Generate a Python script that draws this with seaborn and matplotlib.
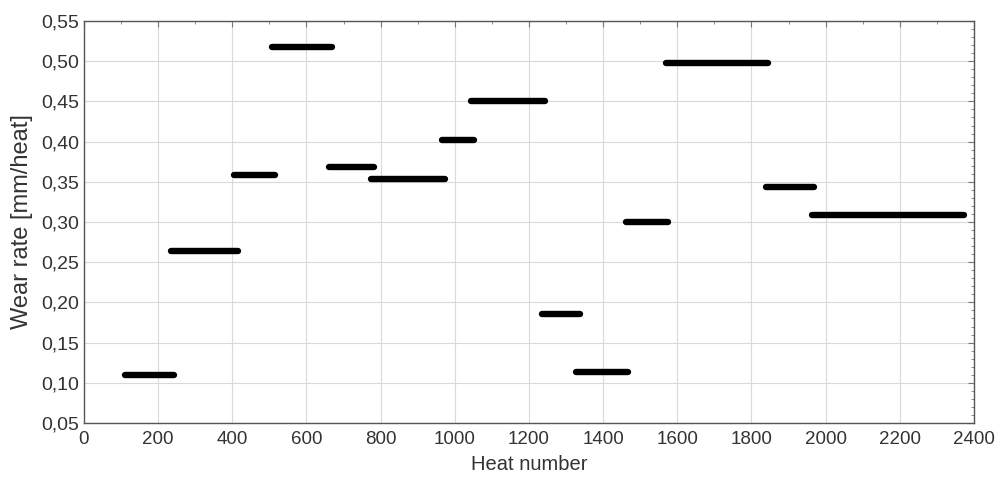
import matplotlib
matplotlib.use("Agg")
import matplotlib.pyplot as plt
import matplotlib.ticker as mticker
import numpy as np
import pandas as pd
import seaborn as sns

# ── Data: one horizontal step per campaign ───────────────────────────────────
heat_start = [110, 235, 405, 507, 662, 775, 965, 1045, 1235, 1328, 1462, 1570, 1838, 1962]
heat_end   = [243, 415, 515, 668, 782, 973, 1052, 1243, 1337, 1467, 1575, 1844, 1968, 2373]
wear_rate  = [0.110, 0.264, 0.359, 0.518, 0.369, 0.354, 0.402, 0.450,
              0.186, 0.114, 0.300, 0.498, 0.344, 0.309]

x_ticks = list(range(0, 2401, 200))
y_ticks = [0.05, 0.10, 0.15, 0.20, 0.25, 0.30, 0.35, 0.40, 0.45, 0.50, 0.55]

rows = []
for i, (a, b, w) in enumerate(zip(heat_start, heat_end, wear_rate)):
    rows.append({"seg": i, "heat": a, "wear": w})
    rows.append({"seg": i, "heat": b, "wear": w})
df = pd.DataFrame(rows)

# ── Style ────────────────────────────────────────────────────────────────────
sns.set_theme(style="whitegrid")
plt.rcParams["font.family"] = ["Liberation Sans", "DejaVu Sans"]
TEXT = "#333333"

fig = plt.figure(figsize=(9.96, 4.82), dpi=100)
ax = fig.add_axes([0.0843, 0.1224, 0.8936, 0.834])

sns.lineplot(data=df, x="heat", y="wear", units="seg", estimator=None,
             color="black", linewidth=4.6, solid_capstyle="round",
             sort=False, legend=False, ax=ax)

ax.set_xlim(0, 2400)
ax.set_ylim(0.05, 0.55)
ax.set_xticks(x_ticks)
ax.set_yticks(y_ticks)
ax.xaxis.set_minor_locator(mticker.MultipleLocator(100))
ax.yaxis.set_minor_locator(mticker.MultipleLocator(0.01))
ax.yaxis.set_major_formatter(mticker.FuncFormatter(lambda v, p: f"{v:.2f}".replace(".", ",")))

ax.grid(True, which="major", color="#d9d9d9", linewidth=0.8)
ax.grid(False, which="minor")
ax.set_facecolor("white")
for s in ax.spines.values():
    s.set_color("#555555")
    s.set_linewidth(1.0)

ax.tick_params(which="both", direction="in", top=True, right=True,
               colors="#777777", labelcolor=TEXT)
ax.tick_params(axis="y", labelsize=14)
ax.tick_params(axis="x", labelsize=13.5, pad=6)
ax.tick_params(which="major", length=4, width=0.8)
ax.tick_params(which="minor", length=2, width=0.6)

ax.set_xlabel("Heat number", fontsize=14.5, color=TEXT, labelpad=5)
ax.set_ylabel("Wear rate [mm/heat]", fontsize=17, color=TEXT, labelpad=6)

fig.savefig("out.png", dpi=100)
